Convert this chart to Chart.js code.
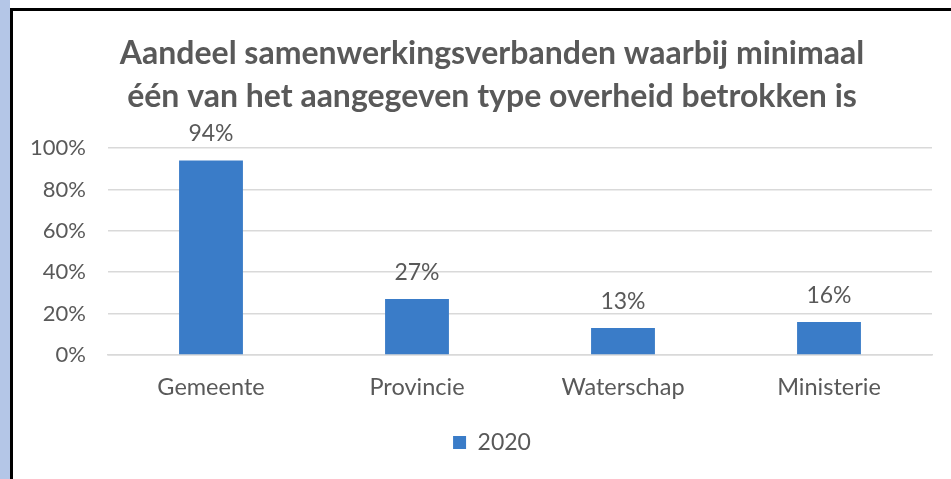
<!DOCTYPE html>
<html>
<head>
<meta charset="utf-8">
<script src="https://cdn.jsdelivr.net/npm/chart.js@4"></script>
<style>
  html, body { margin: 0; padding: 0; background: #ffffff; overflow: hidden; width: 951px; height: 479px; }
  #strip { position: absolute; left: 0; top: 0; width: 10px; height: 479px; background: #B4C6E7; }
  #bl { position: absolute; left: 10px; top: 8px; width: 3px; height: 471px; background: #000; }
  #bt { position: absolute; left: 10px; top: 8px; width: 941px; height: 3px; background: #000; }
  #c { position: absolute; left: 13px; top: 11px; }
</style>
</head>
<body>
<div id="strip"></div>
<canvas id="c" width="938" height="468"></canvas>
<div id="bl"></div>
<div id="bt"></div>
<script>
const categories = ["Gemeente", "Provincie", "Waterschap", "Ministerie"];
const values2020 = [94, 27, 13, 16];
const seriesLabel = "2020";
const yTicks = [0, 20, 40, 60, 80, 100];
const titleLines = ["Aandeel samenwerkingsverbanden waarbij minimaal", "één van het aangegeven type overheid betrokken is"];

const FONT = "Lato, 'Open Sans', sans-serif";
const GRAY = "#595959";

const dataLabels = {
  id: 'dataLabels',
  afterDatasetsDraw(chart) {
    const ctx = chart.ctx;
    const meta = chart.getDatasetMeta(0);
    ctx.save();
    ctx.font = "23px " + FONT;
    ctx.fillStyle = GRAY;
    ctx.textAlign = 'center';
    ctx.textBaseline = 'bottom';
    meta.data.forEach((bar, i) => {
      ctx.fillText(chart.data.datasets[0].data[i] + '%', bar.x, bar.y - 15);
    });
    ctx.restore();
  }
};

// Centre title and legend on the full (uncropped) chart frame as in the reference
const shiftBlocks = {
  id: 'shiftBlocks',
  afterLayout(chart) {
    const dx = 19.5;
    [chart.titleBlock, chart.legend].forEach(b => {
      if (b) { b.left += dx; b.right += dx; }
    });
  }
};

new Chart(document.getElementById('c'), {
  type: 'bar',
  data: {
    labels: categories,
    datasets: [{
      label: seriesLabel,
      data: values2020,
      backgroundColor: '#3A7CC8',
      borderWidth: 0,
      barPercentage: 1,
      categoryPercentage: 0.31
    }]
  },
  options: {
    responsive: false,
    animation: false,
    devicePixelRatio: 1,
    layout: { padding: { left: 0, right: 19, top: 0, bottom: 15 } },
    plugins: {
      title: {
        display: true,
        text: titleLines,
        color: GRAY,
        font: { family: FONT, size: 32, weight: 'bold', lineHeight: 1.344 },
        padding: { top: 21, bottom: 30 }
      },
      legend: {
        display: true,
        position: 'bottom',
        labels: {
          color: GRAY,
          font: { family: FONT, size: 23 },
          boxWidth: 13,
          boxHeight: 13,
          padding: 10
        }
      },
      tooltip: { enabled: false }
    },
    scales: {
      x: {
        grid: { display: false, drawTicks: false },
        border: { display: true, color: '#D9D9D9', width: 1.5 },
        ticks: { color: GRAY, font: { family: FONT, size: 23.5 }, padding: 18 },
        afterFit(scale) { scale.height = 66; }
      },
      y: {
        min: 0, max: 100,
        afterBuildTicks(scale) { scale.ticks = yTicks.map(v => ({ value: v })); },
        grid: { color: '#D9D9D9', lineWidth: 1.5, drawTicks: false },
        border: { display: false },
        ticks: { color: GRAY, font: { family: FONT, size: 22 }, padding: 22, callback: v => v + '%' },
        afterFit(scale) { scale.width = 95; }
      }
    }
  },
  plugins: [dataLabels, shiftBlocks]
});
</script>
</body>
</html>
